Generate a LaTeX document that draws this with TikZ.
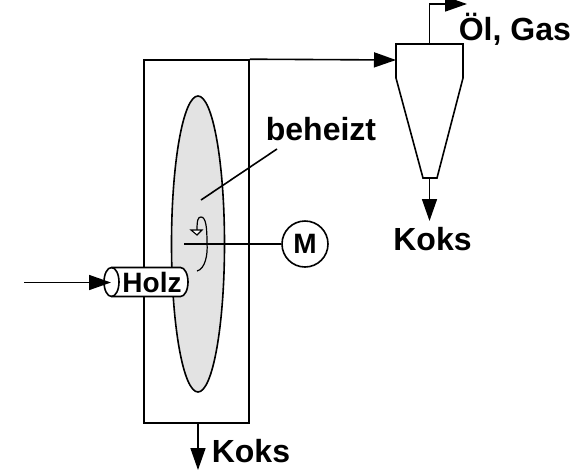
\documentclass[tikz,border=0pt]{standalone}
\usepackage{fontspec}
\setmainfont{Liberation Sans}
\usetikzlibrary{arrows.meta, positioning, shapes.geometric}
\definecolor{cgrey}{HTML}{E3E3E3}
\tikzset{
  every picture/.style={line width=1.6pt},
  arrow/.style={-{Triangle[length=22pt, width=15pt]}},
  lbl/.style={font=\bfseries\fontsize{32}{32}\selectfont, inner sep=0pt},
  lblsmall/.style={font=\bfseries\fontsize{28}{28}\selectfont, inner sep=0pt},
}

\begin{document}
\begin{tikzpicture}[x=1pt, y=-1pt]
  \useasboundingbox (0, 0) rectangle (586, 472);
  \node[draw, minimum width=105pt, minimum height=363pt, inner sep=0pt] (vessel) at (196.5, 241.5) {};
  \node[draw, ellipse, fill=cgrey, minimum width=53pt, minimum height=296pt, inner sep=0pt] (screw) at (198, 244) {};
  % cyclone
  \coordinate (cycin) at (396, 60);
  \coordinate (cyctop) at (429.5, 44);
  \coordinate (cycbot) at (429.5, 178);
  \draw (396, 44) -- (463, 44) -- (463, 78) -- (437, 178) -- (423, 178) -- (396, 78) -- cycle;
  \draw[arrow] (vessel.north east) -- (cycin);
  % outlets
  \node[lbl, anchor=base west] (oel) at (458, 40) {Öl, Gas};
  \node[lbl, anchor=base] (kokscyc) at (432.5, 250) {Koks};
  \node[lbl, anchor=base west] (koksbot) at (211, 462) {Koks};
  \coordinate (gasend) at (467, 4);
  \coordinate (cycend) at (429.5, 221);
  \coordinate (vesend) at (198, 470);
  \draw[arrow] (cyctop) |- (gasend);
  \draw[arrow] (cycbot) -- (cycend);
  \draw[arrow] (vessel.south -| vesend) -- (vesend);
  % feed
  \draw[fill=white] (111.5, 267.5) -- (180.5, 267.5) arc[start angle=90, end angle=-90, x radius=7.5pt, y radius=14.5pt] -- (111.5, 296.5) arc[start angle=-90, end angle=-270, x radius=7.5pt, y radius=14.5pt] -- cycle;
  \draw (111.5, 267.5) arc[start angle=90, end angle=-90, x radius=7.5pt, y radius=14.5pt];
  \node[lblsmall] (holz) at (152, 282) {Holz};
  \coordinate (feedstart) at (24, 282.5);
  \coordinate (feedend) at (111, 282.5);
  \draw[arrow] (feedstart) -- (feedend);
  % drive
  \node[draw, circle, fill=white, minimum size=46pt, inner sep=0pt, lblsmall] (motor) at (305, 244) {M};
  \coordinate (shaftend) at (184, 244);
  \draw (shaftend) -- (motor);
  \draw[line width=1.2pt] (197, 271) .. controls (205, 269) and (208, 255) .. (207, 243) .. controls (207, 228) and (206, 217) .. (201, 217) .. controls (198, 217) and (197, 220) .. (197, 230);
  \draw[line width=1.1pt, fill=white] (191, 230) -- (202, 230) -- (197, 235) -- cycle;
  % heating label
  \node[lbl, anchor=base] (heated) at (321, 140) {beheizt};
  \coordinate (heatstart) at (201, 200);
  \coordinate (heatend) at (277, 149);
  \draw (heatstart) -- (heatend);
\end{tikzpicture}
\end{document}
